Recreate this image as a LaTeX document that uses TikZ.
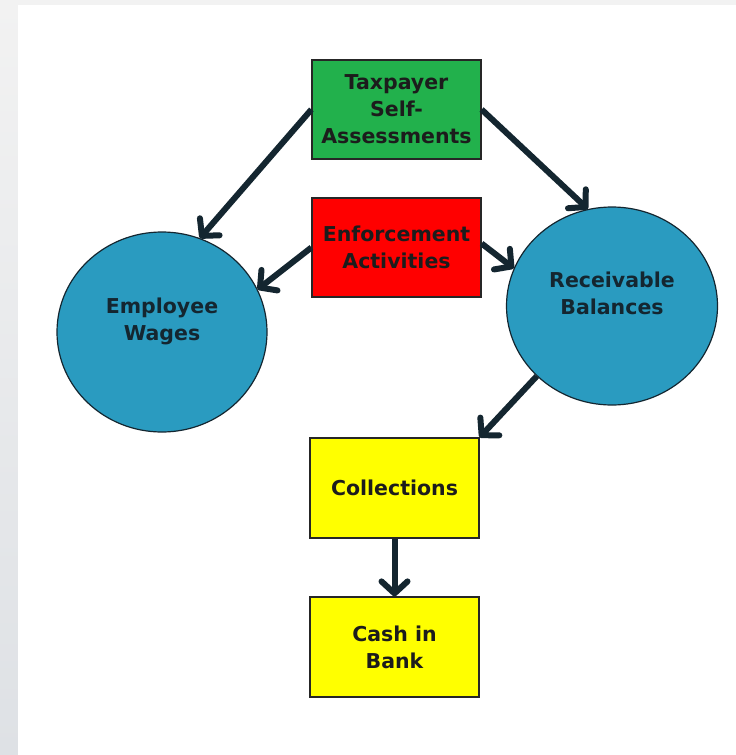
\documentclass[tikz,border=0pt]{standalone}
\usepackage{fontspec}
\setmainfont{DejaVu Sans}
\usetikzlibrary{arrows.meta,shapes.geometric}
\definecolor{boxgreen}{RGB}{34,177,76}
\definecolor{boxred}{RGB}{255,0,0}
\definecolor{boxyellow}{RGB}{255,255,0}
\definecolor{circblue}{RGB}{42,155,192}
\definecolor{arrowdark}{RGB}{20,38,48}
\definecolor{txtdark}{RGB}{28,28,28}
\definecolor{bggray}{RGB}{242,242,242}
\definecolor{bggraydark}{RGB}{222,225,229}
\begin{document}
\begin{tikzpicture}[x=1pt,y=-1pt,
  box/.style={draw=black!85, line width=1.2pt, minimum width=169pt, minimum height=99pt,
    inner sep=0pt, align=center, font=\bfseries\fontsize{20.5}{27}\selectfont, text=txtdark},
  bubble/.style={ellipse, draw=arrowdark, line width=1.2pt, fill=circblue,
    minimum width=210pt, minimum height=200pt, inner sep=0pt, align=center,
    font=\bfseries\fontsize{20.5}{27}\selectfont, text=arrowdark, text depth=25pt},
  flow/.style={draw=arrowdark, line width=6pt, -{Straight Barb[length=12pt,width=26pt,round]}}
]
\useasboundingbox (0,0) rectangle (736,755);
% background
\fill[bggray] (0,0) rectangle (736,755);
\shade[top color=bggray, bottom color=bggraydark] (0,0) rectangle (18,755);
\fill[white] (18,5) rectangle (736,755);
% nodes
\node[box, fill=boxgreen] (tax) at (396.5,109.5) {Taxpayer\\Self-\\Assessments};
\node[box, fill=boxred] (enf) at (396.5,247.5) {Enforcement\\Activities};
\node[bubble] (emp) at (162,332) {Employee\\Wages};
\node[bubble, minimum width=211pt, minimum height=198pt] (rec) at (612,306) {Receivable\\Balances};
\node[box, fill=boxyellow, minimum height=100pt] (col) at (394.5,488) {Collections};
\node[box, fill=boxyellow, minimum height=100pt] (cash) at (394.5,647) {Cash in\\Bank};
% connectors
\draw[flow] (tax.west) -- (emp.68);
\draw[flow] (tax.east) -- (rec.104);
\draw[flow] (enf.west) -- (emp.24);
\draw[flow] ([yshift=4pt]enf.east) -- (rec.159);
\draw[flow] (rec.223) -- (col.north east);
\draw[flow] (col.south) -- (cash.north);
\end{tikzpicture}
\end{document}
